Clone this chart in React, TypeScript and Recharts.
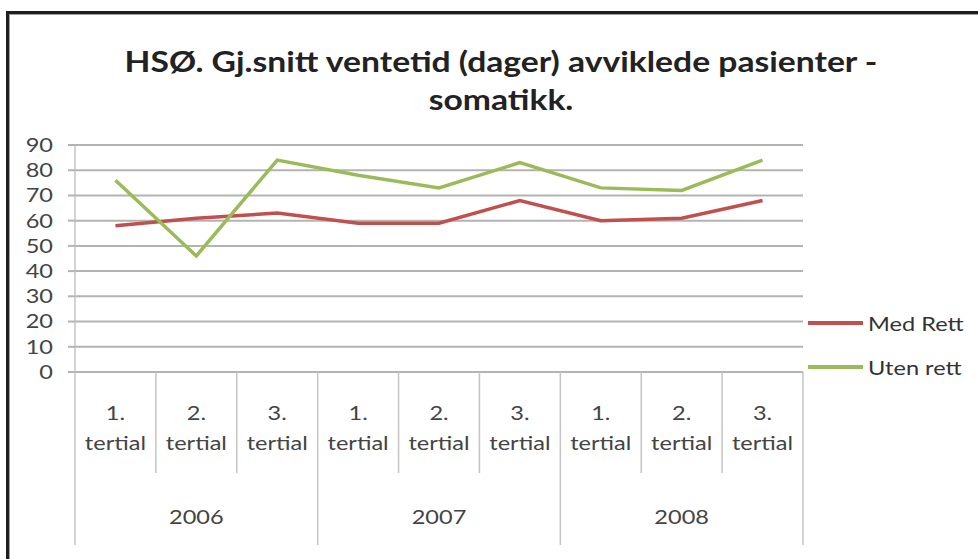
import React from 'react';
import { LineChart, Line, XAxis, YAxis, CartesianGrid } from 'recharts';

const tertials = ['1.', '2.', '3.', '1.', '2.', '3.', '1.', '2.', '3.'];
const years = ['2006', '2007', '2008'];
const medRett = [58, 61, 63, 59, 59, 68, 60, 61, 68];
const utenRett = [76, 46, 84, 78, 73, 83, 73, 72, 84];
const yTicks = [0, 10, 20, 30, 40, 50, 60, 70, 80, 90];

const series = [
  { key: 'med', name: 'Med Rett', color: '#c0504d' },
  { key: 'uten', name: 'Uten rett', color: '#9bbb59' },
];

const data = tertials.map((t, i) => ({
  id: `${years[Math.floor(i / 3)]}-${t}`,
  tertial: t,
  year: years[Math.floor(i / 3)],
  med: medRett[i],
  uten: utenRett[i],
}));

const W = 978;
const H = 559;
const M = { top: 145, right: 175, left: 0, bottom: 14 };
const Y_AXIS_W = 75;
const X_AXIS_H = 173;
const PLOT_W = W - M.left - M.right - Y_AXIS_W;
const HALF_BAND = PLOT_W / data.length / 2;
const FONT = 'Lato, "Open Sans", sans-serif';
const STRETCH = 1.24;
const TEXT = '#444';
const SEP = '#c4c4c4';

const YTick = (props: any) => {
  const { x, y, payload } = props;
  return (
    <text
      transform={`translate(${x},${y}) scale(${STRETCH},1)`}
      textAnchor="end"
      dy="0.36em"
      fontFamily={FONT}
      fontSize={19}
      fill={TEXT}
    >
      {payload.value}
    </text>
  );
};

const XTick = (props: any) => {
  const { x, y, index } = props;
  const d = data[index];
  const textProps = { textAnchor: 'middle' as const, fontFamily: FONT, fontSize: 19, fill: TEXT };
  return (
    <g>
      <line
        x1={x - HALF_BAND}
        x2={x - HALF_BAND}
        y1={y}
        y2={y + (index % 3 === 0 ? 173 : 101)}
        stroke={SEP}
        strokeWidth={1.5}
      />
      {index === data.length - 1 && (
        <line x1={x + HALF_BAND} x2={x + HALF_BAND} y1={y} y2={y + 173} stroke={SEP} strokeWidth={1.5} />
      )}
      <text transform={`translate(${x},${y + 48}) scale(${STRETCH},1)`} {...textProps}>
        {d.tertial}
      </text>
      <text transform={`translate(${x},${y + 78}) scale(${STRETCH},1)`} {...textProps}>
        tertial
      </text>
      {index % 3 === 1 && (
        <text transform={`translate(${x},${y + 152}) scale(${STRETCH},1)`} {...textProps}>
          {d.year}
        </text>
      )}
    </g>
  );
};

export default function App() {
  return (
    <div style={{ position: 'absolute', left: 0, top: 0, width: W, height: H, overflow: 'hidden', background: '#fff' }}>
      <div
        style={{
          position: 'absolute',
          left: 6,
          top: 11,
          width: W - 6,
          height: H - 11,
          boxSizing: 'border-box',
          borderLeft: '3px solid #1e1e1e',
          borderTop: '3px solid #1e1e1e',
          boxShadow: 'inset 1px 1px 0 #a0a0a0',
        }}
      />
      <div
        style={{
          position: 'absolute',
          left: 0,
          top: 42,
          width: 1002,
          textAlign: 'center',
          fontFamily: FONT,
          fontWeight: 700,
          fontSize: 29,
          lineHeight: '38px',
          color: '#222',
        }}
      >
        <div style={{ transform: `scaleX(1.16)` }}>HSØ. Gj.snitt ventetid (dager) avviklede pasienter -</div>
        <div style={{ transform: `scaleX(1.16)` }}>somatikk.</div>
      </div>
      <div style={{ position: 'absolute', left: 0, top: 0 }}>
        <LineChart width={W} height={H} data={data} margin={M}>
          <CartesianGrid vertical={false} stroke="#b3b3b3" strokeWidth={2} />
          <XAxis
            dataKey="id"
            interval={0}
            axisLine={false}
            tickLine={false}
            tickSize={0}
            tickMargin={0}
            height={X_AXIS_H}
            padding={{ left: HALF_BAND, right: HALF_BAND }}
            tick={<XTick />}
          />
          <YAxis
            domain={[0, 90]}
            ticks={yTicks}
            width={Y_AXIS_W}
            tickSize={7}
            tickMargin={15}
            tickLine={{ stroke: '#b3b3b3', strokeWidth: 2 }}
            axisLine={{ stroke: SEP, strokeWidth: 1.5 }}
            tick={<YTick />}
          />
          {series.map((s) => (
            <Line
              key={s.key}
              dataKey={s.key}
              name={s.name}
              stroke={s.color}
              strokeWidth={3.5}
              dot={false}
              type="linear"
              isAnimationActive={false}
            />
          ))}
        </LineChart>
      </div>
      {series.map((s, i) => (
        <div
          key={s.key}
          style={{ position: 'absolute', left: 808, top: 310 + i * 44, height: 26, display: 'flex', alignItems: 'center' }}
        >
          <div style={{ width: 55, height: 4, background: s.color }} />
          <div
            style={{
              marginLeft: 5,
              fontFamily: FONT,
              fontSize: 19,
              color: '#333',
              transform: `scaleX(${STRETCH})`,
              transformOrigin: 'left center',
              whiteSpace: 'nowrap',
            }}
          >
            {s.name}
          </div>
        </div>
      ))}
    </div>
  );
}
